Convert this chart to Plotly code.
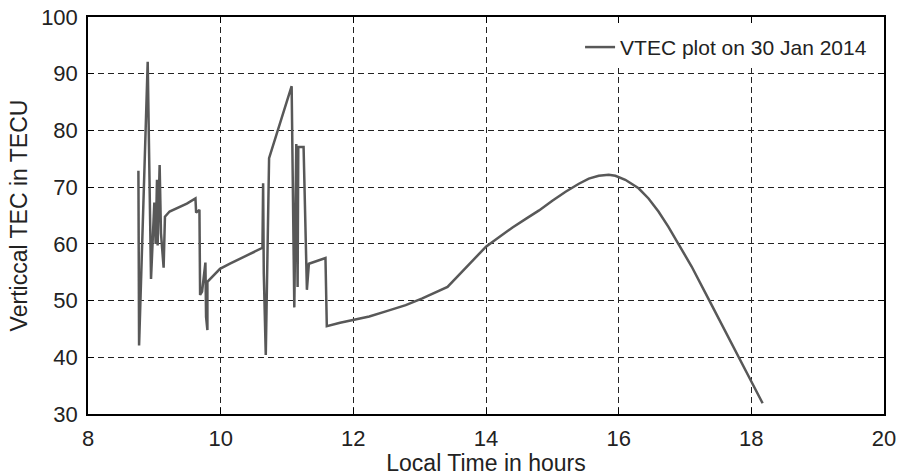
import plotly.graph_objects as go

local_time = [
    8.76, 8.77, 8.90, 8.95, 9.00, 9.02, 9.04, 9.05, 9.08, 9.10, 9.14, 9.16,
    9.23, 9.34, 9.49, 9.62, 9.63, 9.68, 9.69, 9.72, 9.77, 9.78, 9.80, 9.80,
    9.99, 10.14, 10.36, 10.63, 10.64, 10.65, 10.68, 10.73, 11.07, 11.11, 11.14,
    11.16, 11.17, 11.25, 11.30, 11.33, 11.58, 11.60, 11.80, 12.0, 12.24, 12.49,
    12.79, 13.04, 13.24, 13.42, 13.59, 13.79, 14.0, 14.2, 14.4, 14.6, 14.8,
    15.0, 15.2, 15.4, 15.55, 15.7, 15.85, 15.95, 16.10, 16.30, 16.45, 16.60, 16.75,
    16.90, 17.10, 17.35, 17.60, 17.82, 18.05, 18.17,
]
vtec = [
    72.9, 42.1, 92.1, 53.8, 67.3, 60.0, 71.3, 59.7, 73.9, 61.9, 55.8, 64.8,
    65.7, 66.3, 67.1, 68.0, 65.5, 66.0, 51.0, 51.6, 56.7, 47.1, 44.8, 53.3,
    55.6, 56.5, 57.8, 59.3, 70.7, 54.8, 40.4, 75.1, 87.8, 48.8, 77.6,
    52.4, 77.1, 77.1, 51.9, 56.5, 57.5, 45.5, 46.1, 46.6, 47.2, 48.1,
    49.2, 50.4, 51.4, 52.4, 54.5, 57.0, 59.5, 61.2, 62.9, 64.4, 65.9,
    67.6, 69.2, 70.6, 71.5, 72.0, 72.2, 72.0, 71.3, 69.8, 68.0, 65.7, 63.0,
    60.0, 56.0, 50.4, 44.8, 40.0, 34.8, 31.9,
]

x_ticks = [8, 10, 12, 14, 16, 18, 20]
y_ticks = [30, 40, 50, 60, 70, 80, 90, 100]

fig = go.Figure()
fig.add_trace(go.Scatter(
    x=local_time, y=vtec, mode="lines",
    line=dict(color="#585858", width=2.5),
    name="VTEC plot on 30 Jan 2014",
))

font_family = "Liberation Sans, Arial, sans-serif"
axis_common = dict(
    showgrid=True, gridcolor="#222222", gridwidth=1, griddash="6px,4px",
    showline=True, linecolor="black", linewidth=1.5, mirror="ticks",
    ticks="inside", ticklen=6, tickcolor="black",
    zeroline=False, automargin=False,
    tickfont=dict(family=font_family, size=22, color="#222222"),
)

fig.update_layout(
    width=901, height=476,
    margin=dict(l=88, r=17, t=17, b=62, autoexpand=False),
    paper_bgcolor="white", plot_bgcolor="white",
    font=dict(family=font_family, color="#222222"),
    showlegend=True,
    legend=dict(
        x=0.985, y=0.975, xanchor="right", yanchor="top",
        bgcolor="white", borderwidth=0,
        font=dict(family=font_family, size=21, color="#222222"),
    ),
    xaxis=dict(
        range=[8, 20], tickvals=x_ticks, ticklabelstandoff=4,
        title=dict(text="Local Time in hours", standoff=5,
                   font=dict(family=font_family, size=23, color="#222222")),
        **axis_common,
    ),
    yaxis=dict(
        range=[30, 100], tickvals=y_ticks, ticklabelstandoff=4,
        title=dict(text="Verticcal TEC in TECU", standoff=7,
                   font=dict(family=font_family, size=23, color="#222222")),
        **axis_common,
    ),
)

fig.write_html("out.html")
